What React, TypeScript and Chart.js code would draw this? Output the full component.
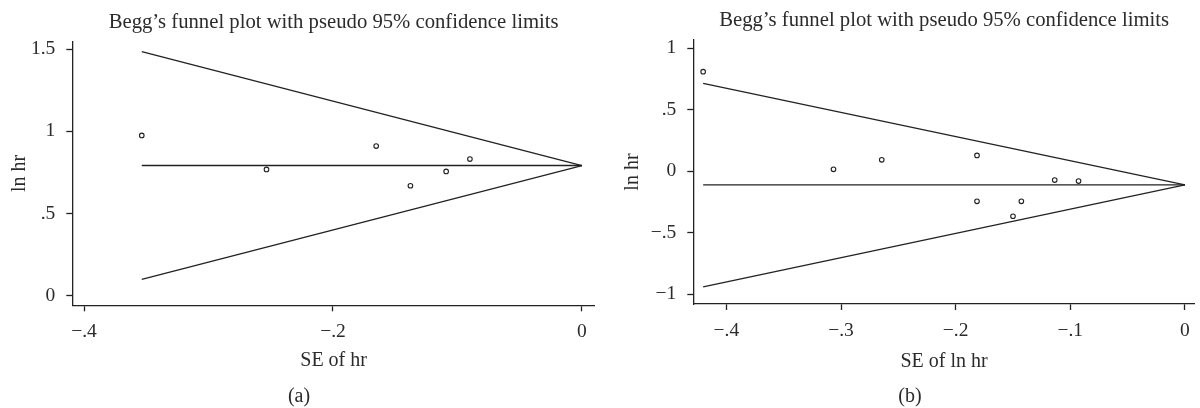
import React, { useEffect, useRef } from 'react';
import { Chart, registerables } from 'chart.js';

Chart.register(...registerables);

const TITLE = 'Begg’s funnel plot with pseudo 95% confidence limits';

// ---------- Panel (a) ----------
const seA = [-0.3536, -0.2534, -0.1653, -0.1378, -0.1091, -0.09];
const lnhrA = [0.975, 0.768, 0.91, 0.669, 0.756, 0.831];
const funnelSeA = [-0.3536, 0];
const funnelUpperA = [1.485, 0.792];
const funnelLowerA = [0.099, 0.792];
const pooledA = [0.792, 0.792];
const xTicksA = [-0.4, -0.2, 0];
const xTickLabelsA = ['−.4', '−.2', '0'];
const yTicksA = [0, 0.5, 1, 1.5];
const yTickLabelsA = ['0', '.5', '1', '1.5'];

// ---------- Panel (b) ----------
const seB = [-0.4203, -0.3066, -0.2645, -0.1814, -0.1814, -0.15, -0.1427, -0.1136, -0.0928];
const lnhrB = [0.808, 0.014, 0.092, 0.127, -0.246, -0.367, -0.246, -0.073, -0.081];
const funnelSeB = [-0.4203, 0];
const funnelUpperB = [0.713, -0.112];
const funnelLowerB = [-0.942, -0.112];
const pooledB = [-0.112, -0.112];
const xTicksB = [-0.4, -0.3, -0.2, -0.1, 0];
const xTickLabelsB = ['−.4', '−.3', '−.2', '−.1', '0'];
const yTicksB = [-1, -0.5, 0, 0.5, 1];
const yTickLabelsB = ['−1', '−.5', '0', '.5', '1'];

const FONT = 'Liberation Serif, Times New Roman, serif';
const INK = '#222';
const TEXT = '#2b2b2b';

type Panel = {
  se: number[];
  lnhr: number[];
  funnelSe: number[];
  upper: number[];
  lower: number[];
  pooled: number[];
  xTicks: number[];
  xLabels: string[];
  yTicks: number[];
  yLabels: string[];
  xTitle: string;
  xMin: number;
  xMax: number;
  yMin: number;
  yMax: number;
  yAxisWidth: number;
  xAxisHeight: number;
  yTitlePad: number;
  xTitlePadBottom: number;
  titlePadTop: number;
  titlePadBottom: number;
  padRight: number;
};

const panelA: Panel = {
  se: seA, lnhr: lnhrA, funnelSe: funnelSeA, upper: funnelUpperA, lower: funnelLowerA, pooled: pooledA,
  xTicks: xTicksA, xLabels: xTickLabelsA, yTicks: yTicksA, yLabels: yTickLabelsA,
  xTitle: 'SE of hr',
  xMin: -0.4094, xMax: 0.0104, yMin: -0.0582, yMax: 1.546,
  yAxisWidth: 72.3, xAxisHeight: 102.7, yTitlePad: 8, xTitlePadBottom: 35,
  titlePadTop: 9.8, titlePadBottom: 6.9, padRight: 5,
};

const panelB: Panel = {
  se: seB, lnhr: lnhrB, funnelSe: funnelSeB, upper: funnelUpperB, lower: funnelLowerB, pooled: pooledB,
  xTicks: xTicksB, xLabels: xTickLabelsB, yTicks: yTicksB, yLabels: yTickLabelsB,
  xTitle: 'SE of ln hr',
  xMin: -0.4289, xMax: 0.0087, yMin: -1.0807, yMax: 1.0648,
  yAxisWidth: 93.3, xAxisHeight: 104, yTitlePad: 20.7, xTitlePadBottom: 34.7,
  titlePadTop: 8.1, titlePadBottom: 7.2, padRight: 1,
};

function lineData(xs: number[], ys: number[]) {
  return xs.map((x, i) => ({ x, y: ys[i] }));
}

function FunnelChart({ panel }: { panel: Panel }) {
  const ref = useRef<HTMLCanvasElement | null>(null);
  useEffect(() => {
    if (!ref.current) return;
    const p = panel;
    const lineStyle = {
      showLine: true,
      pointRadius: 0,
      borderColor: INK,
      borderWidth: 1.3,
      backgroundColor: INK,
      tension: 0,
    };
    const chart = new Chart(ref.current, {
      type: 'scatter',
      data: {
        datasets: [
          { ...lineStyle, data: lineData(p.funnelSe, p.upper) },
          { ...lineStyle, data: lineData(p.funnelSe, p.lower) },
          { ...lineStyle, data: lineData(p.funnelSe, p.pooled) },
          {
            data: lineData(p.se, p.lnhr),
            showLine: false,
            pointStyle: 'circle',
            pointRadius: 2.3,
            pointBorderWidth: 1.1,
            pointBorderColor: INK,
            pointBackgroundColor: 'rgba(255,255,255,0)',
          },
        ],
      },
      options: {
        animation: false,
        responsive: false,
        layout: { padding: { left: 0, right: p.padRight, top: 0, bottom: 0 } },
        plugins: {
          legend: { display: false },
          tooltip: { enabled: false },
          title: {
            display: true,
            text: TITLE,
            fullSize: false,
            color: TEXT,
            font: { family: FONT, size: 20.7, weight: 'normal', lineHeight: 1.2 },
            padding: { top: p.titlePadTop, bottom: p.titlePadBottom },
          },
        },
        scales: {
          x: {
            type: 'linear',
            min: p.xMin,
            max: p.xMax,
            afterBuildTicks: (s: any) => {
              s.ticks = p.xTicks.map((v) => ({ value: v }));
            },
            afterFit: (s: any) => {
              s.height = p.xAxisHeight;
            },
            ticks: {
              autoSkip: false,
              maxRotation: 0,
              padding: 9,
              color: TEXT,
              font: { family: FONT, size: 19.5 },
              callback: (_v: any, i: number) => p.xLabels[i],
            },
            grid: { drawOnChartArea: false, drawTicks: true, tickLength: 6, tickWidth: 1.3, tickColor: INK },
            border: { display: true, color: INK, width: 1.3 },
            title: {
              display: true,
              text: p.xTitle,
              color: TEXT,
              font: { family: FONT, size: 20, lineHeight: 1.2 },
              padding: { top: 0, bottom: p.xTitlePadBottom },
            },
          },
          y: {
            type: 'linear',
            min: p.yMin,
            max: p.yMax,
            afterBuildTicks: (s: any) => {
              s.ticks = p.yTicks.map((v) => ({ value: v }));
            },
            afterFit: (s: any) => {
              s.width = p.yAxisWidth;
            },
            ticks: {
              autoSkip: false,
              padding: 11,
              color: TEXT,
              font: { family: FONT, size: 19.5 },
              callback: (_v: any, i: number) => p.yLabels[i],
            },
            grid: { drawOnChartArea: false, drawTicks: true, tickLength: 6, tickWidth: 1.3, tickColor: INK },
            border: { display: true, color: INK, width: 1.3 },
            title: {
              display: true,
              text: 'ln hr',
              color: TEXT,
              font: { family: FONT, size: 20, lineHeight: 1.2 },
              padding: { top: p.yTitlePad, bottom: 0 },
            },
          },
        },
      },
    } as any);
    return () => chart.destroy();
  }, [panel]);
  return <canvas ref={ref} width={600} height={408} style={{ width: 600, height: 408, display: 'block' }} />;
}

const captionStyle: React.CSSProperties = {
  position: 'absolute',
  top: 383,
  width: 60,
  textAlign: 'center',
  fontFamily: FONT,
  fontSize: 20,
  lineHeight: '24px',
  color: TEXT,
};

export default function App() {
  return (
    <div style={{ position: 'absolute', left: 0, top: 0, width: 1200, height: 408, background: '#fff', overflow: 'hidden' }}>
      <div style={{ position: 'absolute', left: 0, top: 0 }}>
        <FunnelChart panel={panelA} />
      </div>
      <div style={{ position: 'absolute', left: 600, top: 0 }}>
        <FunnelChart panel={panelB} />
      </div>
      <div style={{ ...captionStyle, left: 269 }}>(a)</div>
      <div style={{ ...captionStyle, left: 880 }}>(b)</div>
    </div>
  );
}
